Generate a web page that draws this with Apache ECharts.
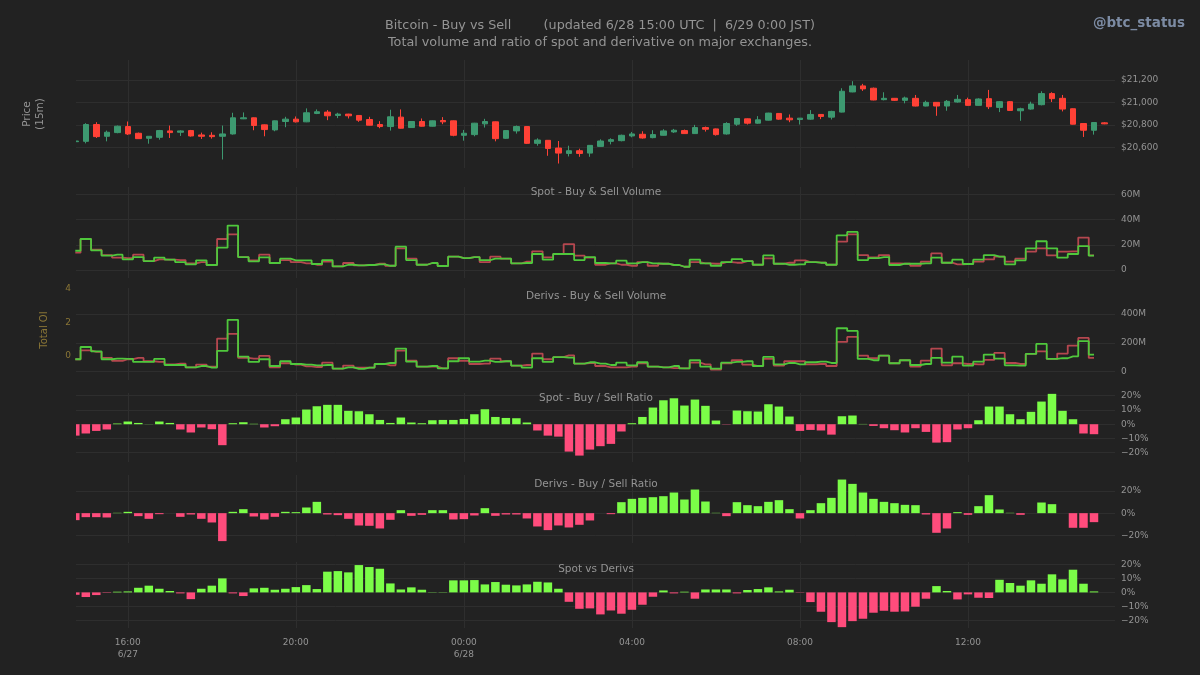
<!DOCTYPE html>
<html>
<head>
<meta charset="utf-8">
<title>Bitcoin - Buy vs Sell</title>
<script src="https://cdn.jsdelivr.net/npm/echarts@6/dist/echarts.min.js"></script>
<style>
  html, body { margin: 0; padding: 0; background: #222222; }
  #main { width: 1200px; height: 675px; }
</style>
</head>
<body>
<div id="main"></div>
<script>
// 15 min candles, bar i is at firstTime + i * step
const firstTime = Date.UTC(2022, 5, 27, 14, 45)
const step = 15 * 60 * 1000
const axisMin = Date.UTC(2022, 5, 27, 14, 46)
const axisMax = Date.UTC(2022, 5, 28, 15, 30)

const tickTimes = [
  Date.UTC(2022, 5, 27, 16), Date.UTC(2022, 5, 27, 20), Date.UTC(2022, 5, 28, 0),
  Date.UTC(2022, 5, 28, 4), Date.UTC(2022, 5, 28, 8), Date.UTC(2022, 5, 28, 12)
]
const tickLabels = ['16:00\n6/27', '20:00', '00:00\n6/28', '04:00', '08:00', '12:00']

const priceOpen = [20650,20653,20803,20698,20731,20785,20725,20680,20689,20746,20734,20749,20710,20707,20698,20719,20854,20863,20800,20755,
  20830,20851,20827,20902,20914,20884,20896,20884,20848,20803,20785,20869,20776,20830,20788,20839,20836,20707,20713,20809,
  20827,20680,20746,20785,20635,20662,20593,20545,20569,20548,20608,20653,20659,20701,20716,20686,20707,20737,20749,20722,
  20776,20764,20719,20806,20854,20815,20842,20902,20860,20848,20851,20893,20869,20914,21094,21148,21127,21025,21037,21019,
  21037,20968,21001,20968,21004,21025,20974,21034,20956,21007,20926,20941,20980,21079,21037,20944,20812,20752,20818]
const priceClose = [20656,20803,20695,20734,20788,20719,20677,20698,20749,20731,20746,20701,20698,20695,20719,20863,20863,20794,20758,20836,
  20851,20827,20908,20917,20881,20896,20881,20842,20797,20785,20872,20770,20830,20788,20836,20827,20707,20725,20815,20830,
  20677,20749,20785,20635,20665,20590,20548,20569,20545,20617,20656,20668,20707,20719,20683,20713,20746,20752,20722,20776,
  20761,20713,20812,20857,20815,20845,20905,20851,20845,20860,20893,20875,20920,21100,21148,21121,21022,21037,21019,21040,
  20968,21001,20968,21010,21028,20974,21031,20962,21007,20929,20944,20986,21079,21034,20941,20806,20752,20821,20809]
const priceLow = [20650,20635,20683,20653,20725,20710,20674,20632,20668,20683,20701,20695,20674,20677,20491,20713,20851,20752,20698,20743,
  20779,20821,20824,20896,20842,20860,20857,20827,20794,20770,20749,20767,20773,20785,20785,20806,20698,20659,20698,20776,
  20653,20674,20722,20629,20614,20524,20455,20518,20515,20515,20605,20626,20653,20689,20677,20680,20704,20728,20719,20719,
  20740,20704,20713,20791,20803,20809,20839,20845,20824,20803,20845,20851,20848,20911,21091,21103,21019,21019,21013,20992,
  20965,20965,20881,20926,20998,20971,20971,20941,20914,20926,20836,20935,20974,21004,20920,20803,20692,20713,20806]
const priceHigh = [20659,20815,20824,20749,20794,20830,20731,20698,20755,20794,20752,20755,20731,20734,20794,20908,20911,20866,20803,20839,
  20872,20875,20947,20938,20932,20908,20899,20887,20872,20833,20935,20938,20833,20857,20839,20869,20839,20755,20818,20854,
  20830,20752,20794,20788,20680,20665,20656,20614,20587,20620,20671,20680,20713,20737,20743,20752,20761,20764,20758,20800,
  20785,20767,20824,20860,20857,20878,20908,20905,20893,20860,20932,20896,20926,21127,21190,21166,21133,21091,21040,21052,
  21067,21016,21004,21022,21067,21043,21037,21112,21013,21013,20953,21007,21100,21091,21067,20947,20815,20824,20824]

const spotBuy = [15.3,24.6,15.6,11.4,12.2,8.5,10.3,7.1,9.8,8.2,6.3,4.5,7.7,4,17.7,35.2,10.3,6.9,10,5.6,
  9,7.7,7.7,4.8,7.9,2.9,4.2,3.7,4,4.5,3.4,18.5,7.9,4.2,5.6,3.2,10.6,9.5,10.3,7.9,
  9,9,5.3,5.6,12.7,8.2,12.7,12.7,7.9,10.3,5.6,5.3,7.4,5.3,6.3,5.3,5,4,2.6,8.2,
  5.3,3.4,6.3,8.7,7.1,4.2,11.6,5,4.2,4.5,6.3,5.8,4.2,27.5,30.2,7.9,9.5,10.3,4,5,
  5,5.3,9.8,5.8,8.2,4.8,8.2,11.9,10.6,4.5,7.7,17.2,22.8,17.2,9.8,12.7,19,11.4]
const spotSell = [13.8,24.6,16.1,11.9,9.8,9.5,12.2,7.1,8.5,8.2,7.9,5.3,6.3,4,24.6,28.3,10.3,7.7,12.2,5.6,
  7.9,6.3,5.3,4.2,6.6,2.9,5.6,3.7,4,5,3.4,17.2,9,4.2,5.6,3.2,10.6,9.5,10.3,6.3,
  10.6,9,5.3,6.6,14.8,10,12.7,20.6,11.4,9.8,4.2,5.3,4.2,3.4,6.3,3.4,5,4,2.6,6.3,
  5.3,5,6.3,5.8,7.1,4.2,9.3,5,5.8,7.7,6.3,5.8,4.2,22.5,28.3,11.9,10,11.9,5.3,5,
  3.4,6.6,13.2,5.8,4.5,4.8,6.6,8.5,10.6,6.6,9,14.6,17.2,11.6,14.6,14.8,25.7,11.6]

const derivBuy = [86,171,141,86,90,88,67,67,88,46,46,30,39,28,144,359,104,67,86,39,
  72,53,49,44,46,21,30,19,28,53,60,160,69,35,39,23,72,93,69,76,
  67,72,42,28,93,67,100,97,56,65,56,46,62,44,65,35,30,39,23,79,
  35,21,62,67,72,39,102,51,60,51,65,69,60,301,282,88,79,111,58,79,
  46,53,95,62,104,42,69,118,90,44,42,123,192,88,93,106,211,118]
const derivSell = [86,148,137,95,74,86,95,72,67,51,56,30,49,35,229,262,95,90,109,30,
  58,49,37,32,62,21,42,28,28,53,44,146,76,35,35,23,93,74,53,56,
  90,72,42,46,125,86,100,113,56,60,39,30,30,35,58,35,30,25,23,62,
  51,14,58,79,49,39,88,42,72,72,51,53,39,206,241,111,93,111,58,79,
  35,76,160,44,58,53,51,81,130,60,53,123,141,88,125,181,234,95]

const spotRatio = [-8,-6.5,-4.7,-3.7,0.5,1.9,0.9,0.1,1.9,0.9,-3.7,-5.8,-2.3,-3.5,-14.7,0.7,1.4,0.3,-2.3,-1.4,
  3.5,4.7,10.3,12.6,13.6,13.6,9.4,9.1,7,3,0.9,4.7,1.2,0.7,2.8,3,3,3.7,7,10.5,
  5.1,4.4,4.2,1.2,-4.4,-8,-8.7,-19.2,-22,-17.8,-15.4,-13.8,-5.1,0.7,5.1,11.7,16.8,18.2,13.1,17.3,
  12.9,2.6,-0.2,9.6,9.1,8.9,14,12.4,5.4,-4.7,-4,-4.4,-7.3,5.6,6.1,0.2,-1.2,-2.8,-4.2,-5.8,
  -2.8,-5.4,-12.9,-12.6,-3.7,-2.8,2.8,12.4,12.4,7,3.5,8.7,15.9,21.3,9.4,3.5,-6.5,-7]
const derivRatio = [-6.3,-3.6,-3.6,-3.9,0.3,1.2,-2.7,-5.1,-0.9,0,-3.3,-1.2,-5.1,-8.4,-25.2,1.2,3.6,-3,-5.7,-3.3,
  1.2,0.9,5.1,10.2,-1.2,-1.8,-5.1,-11.1,-11.4,-13.8,-6,2.7,-2.4,-1.5,2.7,2.7,-5.7,-5.4,-2.1,4.5,
  -2.4,-1.2,-1.2,-4.8,-12,-15.3,-11.1,-12.9,-10.5,-6.6,0,-0.9,9.9,12.9,13.8,14.4,15.3,18.6,12.3,21.3,
  10.5,0.3,-2.7,9.9,7.2,6.3,10.2,11.7,3.6,-4.8,2.7,9,13.8,30.3,26.4,18.6,12.9,10.2,9,7.5,
  7.2,-1.2,-17.7,-13.8,0.9,-1.5,6.3,16.2,3.3,0.3,-1.5,0,9.6,8.1,0,-13.2,-13.2,-8.1]
const spotVsDerivs = [-1.7,-3.3,-1.9,-0.3,0.5,0.7,3.3,4.8,2.6,1,-0.7,-4.8,2.6,4.8,10,-0.7,-2.6,2.9,3.3,1.9,
  2.6,3.8,5.2,2.4,14.8,15.2,14.3,19.5,18.1,16.9,6.4,2.1,3.6,1.9,0.2,0.2,8.6,8.6,8.8,5.7,
  7.4,5.5,5,5.7,7.6,7.1,2.6,-6.7,-11.7,-11.4,-15.7,-12.9,-15.2,-12.4,-8.8,-3.1,1.4,-0.7,0.5,-4.5,
  2.1,2.1,2.1,-0.7,1.7,2.4,3.6,0.7,1.9,-0.2,-6.9,-13.8,-21.2,-24.8,-20.5,-18.8,-14.5,-13.1,-13.8,-13.6,
  -10.2,-4.5,4.5,1,-5,-1.4,-3.8,-4,9,6.7,4.8,8.6,6.2,12.9,9.3,16.2,6.2,0.7]

const priceTicks = [20600, 20800, 21000, 21200]
const spotTicks = [0, 20, 40, 60]
const derivTicks = [0, 200, 400]
const ratioTicks = [-20, -10, 0, 10, 20]
const derivRatioTicks = [-20, 0, 20]
const oiTicks = [0, 2, 4]

const BG = '#222222'
const GRID = '#2e2e2e'
const TEXT = '#949494'
const GOLD = '#8a7636'
const UP = '#3d9970'
const DOWN = '#ff4136'
const BUY = '#4fc83c'
const SELL = '#b5474f'
const POS = '#7bfd48'
const NEG = '#ff4c7c'

const timeOf = i => firstTime + i * step
const pairs = arr => arr.map((v, i) => [timeOf(i), v])

// top / bottom pixel of every panel
const panels = [[60, 168], [187, 278], [288, 380], [393, 462], [475, 543], [562, 628]]

const grids = panels.map(p => ({ left: 76, right: 85, top: p[0], height: p[1] - p[0] }))

// value axis holding epoch ms, a time axis chokes on customValues
const xAxes = panels.map((p, i) => ({
  type: 'value',
  gridIndex: i,
  min: axisMin,
  max: axisMax,
  axisLine: { show: false },
  axisTick: { show: false, customValues: tickTimes },
  splitLine: { show: true, lineStyle: { color: GRID, width: 1 } },
  axisLabel: {
    show: i === panels.length - 1,
    customValues: tickTimes,
    formatter: v => tickLabels[tickTimes.indexOf(v)],
    color: TEXT, fontSize: 9, lineHeight: 12.5, margin: 8,
    fontFamily: 'DejaVu Sans'
  }
}))

function rightAxis(i, min, max, ticks, fmt) {
  return {
    type: 'value',
    gridIndex: i,
    position: 'right',
    min: min,
    max: max,
    axisLine: { show: false },
    axisTick: { show: false, customValues: ticks },
    splitLine: { show: true, lineStyle: { color: GRID, width: 1 } },
    axisLabel: { customValues: ticks, formatter: fmt, color: TEXT, fontSize: 9, margin: 6, fontFamily: 'DejaVu Sans' }
  }
}

const pct = v => (v < 0 ? '\u2212' + (-v) : v) + '%'
const yAxes = [
  rightAxis(0, 20415, 21379, priceTicks, v => '$' + v.toLocaleString('en-US')),
  rightAxis(1, -6.3, 65.8, spotTicks, v => (v === 0 ? '0' : v + 'M')),
  rightAxis(2, -58, 580, derivTicks, v => (v === 0 ? '0' : v + 'M')),
  rightAxis(3, -26.5, 21.9, ratioTicks, pct),
  rightAxis(4, -26.9, 34.4, derivRatioTicks, pct),
  rightAxis(5, -25.4, 21.7, ratioTicks, pct),
  {
    // open interest axis is empty here, only the labels are left
    type: 'value',
    gridIndex: 2,
    position: 'left',
    min: -1.45,
    max: 4.04,
    axisLine: { show: false },
    axisTick: { show: false, customValues: oiTicks },
    splitLine: { show: false },
    axisLabel: { customValues: oiTicks, color: GOLD, fontSize: 9, margin: 5, fontFamily: 'DejaVu Sans' }
  }
]

function stepLine(name, arr, idx, color) {
  return {
    name: name,
    type: 'line',
    step: 'middle',
    xAxisIndex: idx,
    yAxisIndex: idx,
    data: pairs(arr),
    showSymbol: false,
    animation: false,
    lineStyle: { color: color, width: 1.8 }
  }
}

function ratioBars(name, arr, idx) {
  return {
    name: name,
    type: 'bar',
    xAxisIndex: idx,
    yAxisIndex: idx,
    barWidth: 8.5,
    animation: false,
    data: pairs(arr),
    itemStyle: { color: p => (p.value[1] >= 0 ? POS : NEG) }
  }
}

const subTitle = (text, y) => ({
  text: text, left: 596, top: y, padding: 0, textAlign: 'center',
  textStyle: { color: TEXT, fontSize: 10.5, fontWeight: 'normal', fontFamily: 'DejaVu Sans' }
})

// the first bar sits half outside the plot and echarts does not clip it on x
const leftMask = (top, bottom) => ({
  type: 'rect', z: 50,
  shape: { x: 68, y: top, width: 8, height: bottom - top },
  style: { fill: BG }
})

const chart = echarts.init(document.getElementById('main'), null, { renderer: 'canvas' })
chart.setOption({
  backgroundColor: BG,
  animation: false,
  title: [
    {
      text: 'Bitcoin - Buy vs Sell        (updated 6/28 15:00 UTC  |  6/29 0:00 JST)',
      left: 600, top: 19, padding: 0, textAlign: 'center',
      textStyle: { color: TEXT, fontSize: 12.75, fontWeight: 'normal', fontFamily: 'DejaVu Sans' }
    },
    {
      text: 'Total volume and ratio of spot and derivative on major exchanges.',
      left: 600, top: 36, padding: 0, textAlign: 'center',
      textStyle: { color: TEXT, fontSize: 12.75, fontWeight: 'normal', fontFamily: 'DejaVu Sans' }
    },
    {
      text: '@btc_status', left: 1185, top: 16, padding: 0, textAlign: 'right',
      textStyle: { color: '#7c8ba3', fontSize: 13.5, fontWeight: 'bold', fontFamily: 'DejaVu Sans' }
    },
    subTitle('Spot - Buy & Sell Volume', 187),
    subTitle('Derivs - Buy & Sell Volume', 291),
    subTitle('Spot - Buy / Sell Ratio', 393),
    subTitle('Derivs - Buy / Sell Ratio', 479),
    subTitle('Spot vs Derivs', 564)
  ],
  graphic: [
    leftMask(60, 168),
    leftMask(393, 628),
    {
      type: 'text', x: 34, y: 114, rotation: Math.PI / 2,
      style: { text: 'Price\n(15m)', fill: TEXT, font: '10.5px "DejaVu Sans"', align: 'center', verticalAlign: 'middle', lineHeight: 13 }
    },
    {
      type: 'text', x: 44, y: 330, rotation: Math.PI / 2,
      style: { text: 'Total OI', fill: GOLD, font: '10px "DejaVu Sans"', align: 'center', verticalAlign: 'middle' }
    }
  ],
  grid: grids,
  xAxis: xAxes,
  yAxis: yAxes,
  series: [
    {
      name: 'Price',
      type: 'candlestick',
      xAxisIndex: 0,
      yAxisIndex: 0,
      barWidth: 6,
      animation: false,
      data: priceOpen.map((o, i) => [timeOf(i), o, priceClose[i], priceLow[i], priceHigh[i]]),
      itemStyle: { color: UP, color0: DOWN, borderColor: UP, borderColor0: DOWN, borderWidth: 1 }
    },
    stepLine('Spot sell', spotSell, 1, SELL),
    stepLine('Spot buy', spotBuy, 1, BUY),
    stepLine('Derivs sell', derivSell, 2, SELL),
    stepLine('Derivs buy', derivBuy, 2, BUY),
    ratioBars('Spot ratio', spotRatio, 3),
    ratioBars('Derivs ratio', derivRatio, 4),
    ratioBars('Spot vs Derivs', spotVsDerivs, 5)
  ]
})
</script>
</body>
</html>
